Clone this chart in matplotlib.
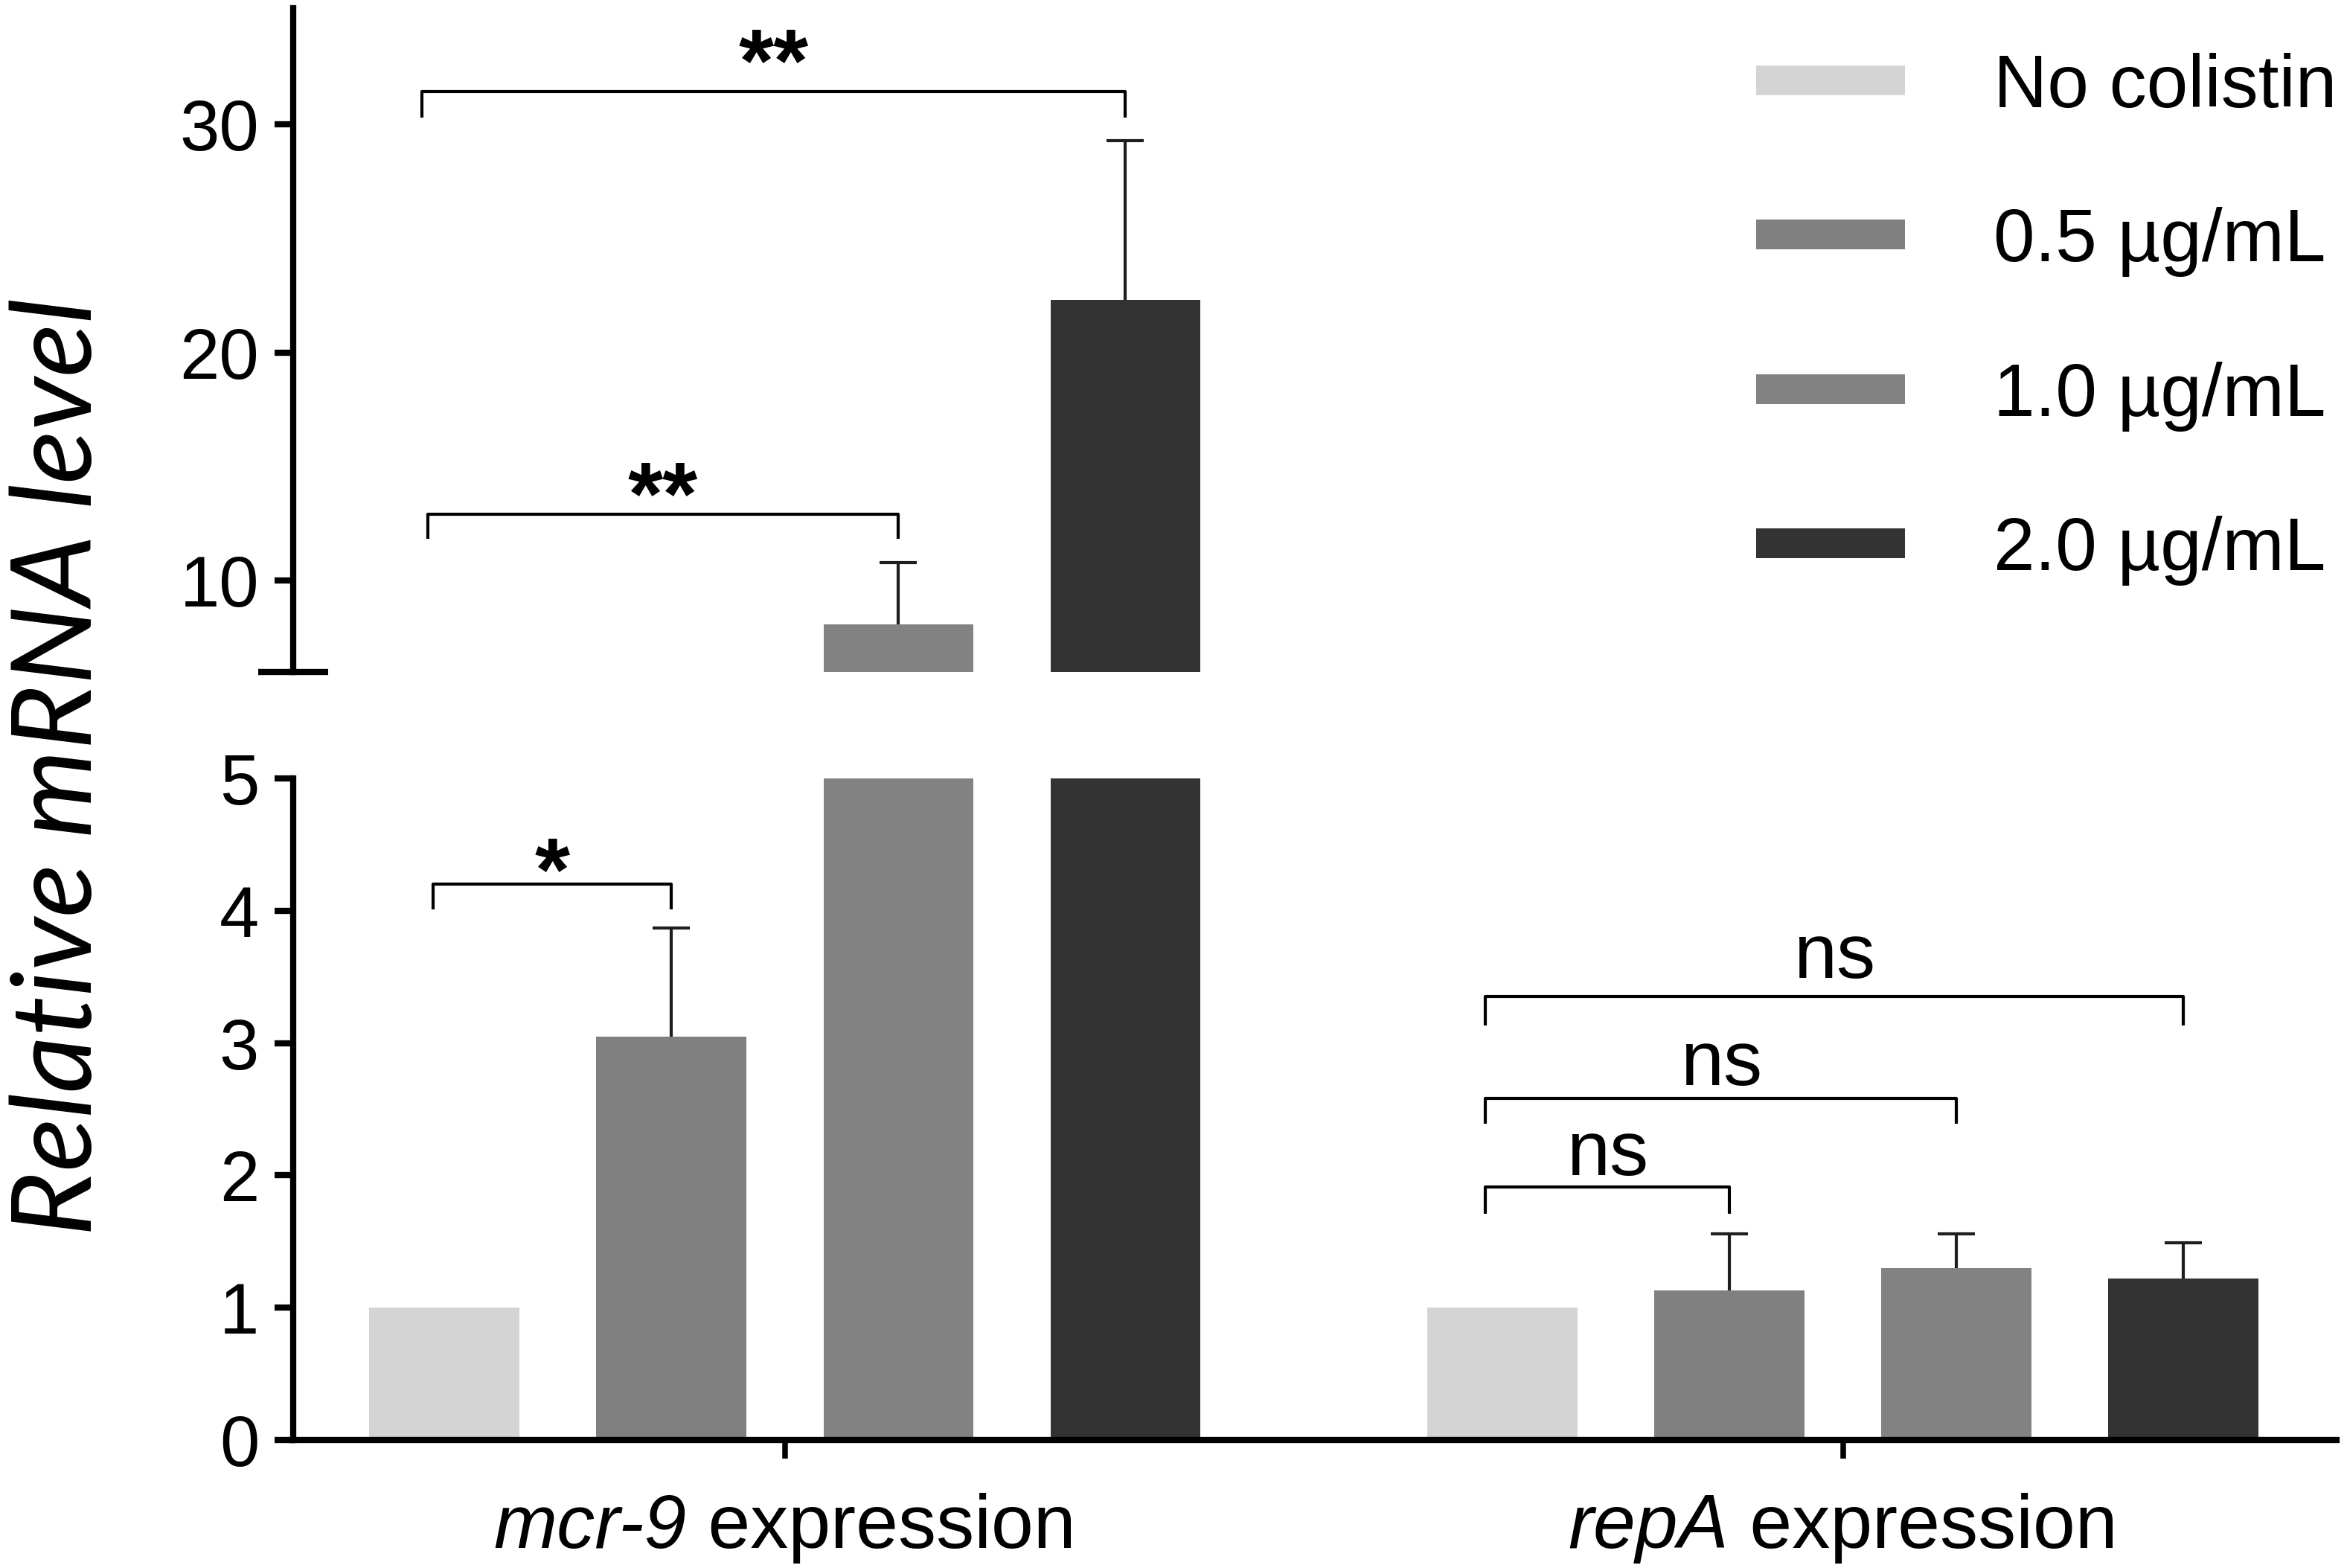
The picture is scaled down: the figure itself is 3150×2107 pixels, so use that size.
import matplotlib
matplotlib.use('Agg')
import matplotlib.pyplot as plt
import numpy as np
from matplotlib.patches import Rectangle

plt.rcParams['font.family'] = ['Liberation Sans', 'DejaVu Sans']

# ---------------- data ----------------
group_gene = ['mcr-9', 'repA']
group_suffix = ' expression'
conditions = ['No colistin', '0.5 µg/mL', '1.0 µg/mL', '2.0 µg/mL']
colors = ['#d4d4d4', '#808080', '#828282', '#333333']

mcr9_mean = [1.0, 3.05, 8.10, 22.29]
mcr9_err = [0.0, 0.82, 2.68, 6.98]
repA_mean = [1.0, 1.13, 1.30, 1.22]
repA_err = [0.0, 0.43, 0.26, 0.27]

mcr9_sig = [('*', 0, 1), ('**', 0, 2), ('**', 0, 3)]
repA_sig = [('ns', 0, 1), ('ns', 0, 2), ('ns', 0, 3)]

lower_ticks = [0, 1, 2, 3, 4, 5]
upper_ticks = [10, 20, 30]

# ---------------- layout ----------------
W, H = 3150, 2107
fig = plt.figure(figsize=(W / 300, H / 300), dpi=300)
ax_lo = fig.add_axes([394 / W, 1 - 1935 / H, (3140 - 394) / W, (1935 - 1046) / H])
ax_hi = fig.add_axes([394 / W, 1 - 903 / H, (3140 - 394) / W, (903 - 10.6) / H])

group_gap = 4.662
bar_w = 0.66
means = [mcr9_mean, repA_mean]
errs = [mcr9_err, repA_err]

for ax in (ax_lo, ax_hi):
    for gi in range(2):
        xs = gi * group_gap + np.arange(4)
        ax.bar(xs, means[gi], bar_w, color=colors, zorder=2, linewidth=0)
        for x, m, e in zip(xs, means[gi], errs[gi]):
            if e > 0:
                eb = ax.errorbar([x], [m], yerr=[[0], [e]], fmt='none', ecolor='#1e1e1e',
                                 elinewidth=1.0, capsize=6, capthick=1.0, zorder=1)
                for cap in eb[1]:
                    if abs(cap.get_ydata()[0] - m) < 1e-9:
                        cap.set_visible(False)
    ax.set_xlim(-0.666, 8.337)
    for s in ('top', 'right'):
        ax.spines[s].set_visible(False)
    ax.spines['left'].set_linewidth(2.0)
    ax.spines['bottom'].set_linewidth(2.0)

ax_lo.set_ylim(0, 5)
ax_hi.set_ylim(6, 35.1)
ax_hi.spines['bottom'].set_visible(False)
ax_hi.set_xticks([])

ax_lo.set_yticks(lower_ticks)
ax_lo.set_yticklabels([str(t) for t in lower_ticks])
ax_hi.set_yticks(upper_ticks)
ax_hi.set_yticklabels([str(t) for t in upper_ticks])
ax_lo.set_yticks([5], minor=True)
ax_hi.set_yticks([6], minor=True)
for ax in (ax_lo, ax_hi):
    ax.tick_params(axis='y', which='major', direction='out', length=6, width=2.0,
                   pad=5, labelsize=23)
    ax.tick_params(axis='y', which='minor', direction='inout', length=22.6, width=2.0)

group_centers = [1.5, group_gap + 1.5]
ax_lo.set_xticks(group_centers)
ax_lo.set_xticklabels(['', ''])
ax_lo.tick_params(axis='x', direction='out', length=6, width=1.8, pad=8)

# composite x tick labels: italic gene name + upright suffix
renderer = fig.canvas.get_renderer()
tr = ax_lo.get_xaxis_transform()
x0, x1 = ax_lo.get_xlim()
ax_px = ax_lo.get_window_extent(renderer).width
px_to_data = (x1 - x0) / ax_px
y_lab = -(2080 - 1935) / 889
for gc, gene in zip(group_centers, group_gene):
    t1 = ax_lo.text(gc, y_lab, gene, transform=tr, ha='left', va='baseline',
                    fontsize=24.5, style='italic', clip_on=False)
    t2 = ax_lo.text(gc, y_lab, group_suffix, transform=tr, ha='left', va='baseline',
                    fontsize=24.5, clip_on=False)
    w1 = t1.get_window_extent(renderer).width * px_to_data
    w2 = t2.get_window_extent(renderer).width * px_to_data
    start = gc - (w1 + w2) / 2
    t1.set_x(start)
    t2.set_x(start + w1)


def bracket(ax, x1, x2, y_line, y_leg, label, y_text, bold):
    ax.plot([x1, x1, x2, x2], [y_leg, y_line, y_line, y_leg], color='black',
            lw=1.0, clip_on=False, zorder=3, solid_capstyle='butt')
    ax.text((x1 + x2) / 2, y_text, label, ha='center', va='baseline',
            fontsize=29 if bold else 25, fontweight='bold' if bold else 'normal',
            clip_on=False)


# mcr-9 comparisons
mcr_axes = [ax_lo, ax_hi, ax_hi]
mcr_lines = [(4.20, 4.01, 4.085), (12.9, 11.83, 12.49), (31.44, 30.28, 31.45)]
mcr_left_off = [-0.05, -0.072, -0.10]
for (lab, i, j), ax, (yl, yg, yt), lo in zip(mcr9_sig, mcr_axes, mcr_lines, mcr_left_off):
    bracket(ax, i + lo, j, yl, yg, lab, yt, True)

# repA comparisons
rep_lines = [(1.91, 1.71, 2.0), (2.584, 2.39, 2.68), (3.353, 3.135, 3.49)]
for (lab, i, j), (yl, yg, yt) in zip(repA_sig, rep_lines):
    bracket(ax_lo, group_gap + i - 0.075, group_gap + j, yl, yg, lab, yt, False)

# legend (manual, figure coordinates)
for k, (cond, col) in enumerate(zip(conditions, colors)):
    cy = 108 + k * 207.3
    fig.add_artist(Rectangle((2360 / W, 1 - (cy + 20) / H), 200 / W, 40 / H,
                             transform=fig.transFigure, facecolor=col, edgecolor='none'))
    fig.text(2679 / W, 1 - (cy + 36) / H, cond, ha='left', va='baseline', fontsize=24)

fig.text(0.0255, 0.511, 'Relative mRNA level', rotation=90, ha='center', va='center',
         fontsize=36, family=['Lato', 'DejaVu Sans'], style='italic')

fig.savefig('out.png', dpi=300)
